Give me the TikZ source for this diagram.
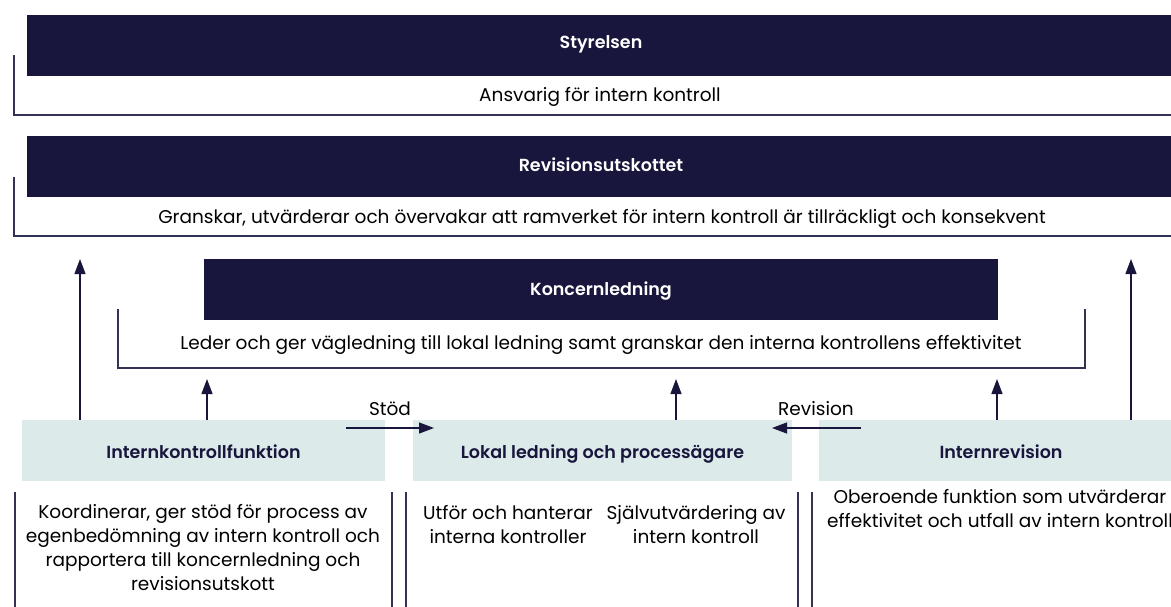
\documentclass[tikz,border=0pt]{standalone}
\usepackage{fontspec}
\setmainfont{Poppins}[BoldFont={Poppins SemiBold}]
\usetikzlibrary{arrows.meta}
\definecolor{navy}{RGB}{24,22,60}
\definecolor{lightbox}{RGB}{221,234,234}
\definecolor{linec}{RGB}{50,50,85}
\tikzset{
  darkbox/.style={fill=navy, text=white, font=\bfseries\fontsize{17.5}{21}\selectfont, inner sep=0pt, minimum height=61pt},
  lightb/.style={fill=lightbox, text=navy, font=\bfseries\fontsize{17.5}{21}\selectfont, inner sep=0pt, minimum height=61pt},
  boxtext/.style={inner sep=0pt, anchor=base, font=\bfseries\fontsize{17.5}{21}\selectfont},
  desc/.style={text=black, font=\fontsize{18.5}{24}\selectfont, inner sep=0pt, align=center, anchor=base},
  lbl/.style={text=black, font=\fontsize{18.5}{22}\selectfont, inner sep=0pt, anchor=base},
  bline/.style={draw=linec, line width=1.2pt},
  uparrow/.style={draw=navy, line width=1.2pt, -{Triangle[length=15pt,width=11pt]}},
}
\begin{document}
\begin{tikzpicture}[x=1pt,y=-1pt]
\useasboundingbox (0,0) rectangle (1171,606);
% top boxes
\node[darkbox, minimum width=1148pt] (sty) at (601,45.5) {};
\node[boxtext, text=white] (styt) at (601,48.5) {Styrelsen};
\node[desc] (styd) at (600,101) {Ansvarig för intern kontroll};
\coordinate (s1) at (14,55); \coordinate (s2) at (14,115); \coordinate (s3) at (1180,115);
\draw[bline] (s1) -- (s2) -- (s3);

\node[darkbox, minimum width=1148pt] (rev) at (601,166.5) {};
\node[boxtext, text=white] (revt) at (601,171.5) {Revisionsutskottet};
\node[desc] (revd) at (602,223) {Granskar, utvärderar och övervakar att ramverket för intern kontroll är tillräckligt och konsekvent};
\coordinate (r1) at (14,177); \coordinate (r2) at (14,236); \coordinate (r3) at (1180,236);
\draw[bline] (r1) -- (r2) -- (r3);

\node[darkbox, minimum width=794pt] (kon) at (601,289.5) {};
\node[boxtext, text=white] (kont) at (601,295) {Koncernledning};
\node[desc] (kond) at (601,349) {Leder och ger vägledning till lokal ledning samt granskar den interna kontrollens effektivitet};
\coordinate (k1) at (118,309); \coordinate (k2) at (118,368); \coordinate (k3) at (1085,368); \coordinate (k4) at (1085,309);
\draw[bline] (k1) -- (k2) -- (k3) -- (k4);

% light boxes
\node[lightb, minimum width=363pt] (ikf) at (203.5,450.5) {};
\node[boxtext, text=navy] (ikft) at (203.5,458) {Internkontrollfunktion};
\node[lightb, minimum width=379pt] (lok) at (602.5,450.5) {};
\node[boxtext, text=navy] (lokt) at (602.5,458) {Lokal ledning och processägare};
\node[lightb, minimum width=364pt] (ir) at (1001,450.5) {};
\node[boxtext, text=navy] (irt) at (1001,458) {Internrevision};

% arrows up
\coordinate (a1) at (80,259); \coordinate (a2) at (207,379); \coordinate (a3) at (676,379); \coordinate (a4) at (997,379); \coordinate (a5) at (1131,259);
\draw[uparrow] (ikf.north -| a1) -- (a1);
\draw[uparrow] (ikf.north -| a2) -- (a2);
\draw[uparrow] (lok.north -| a3) -- (a3);
\draw[uparrow] (ir.north -| a4) -- (a4);
\draw[uparrow] (ir.north -| a5) -- (a5);

% horizontal arrows
\coordinate (st1) at (346,428); \coordinate (st2) at (434,428);
\draw[uparrow] (st1) -- (st2);
\node[lbl] (stod) at (390,415) {Stöd};
\coordinate (rv1) at (861,428); \coordinate (rv2) at (772,428);
\draw[uparrow] (rv1) -- (rv2);
\node[lbl] (revl) at (816,415) {Revision};

% bottom lines
\foreach \x/\n in {15/b1,392/b2,406/b3,798/b4,812/b5} {
  \coordinate (\n t) at (\x,492); \coordinate (\n b) at (\x,610);
  \draw[bline] (\n t) -- (\n b);
}

% bottom texts (anchor=base is the last line's baseline)
\node[desc] (ikfd) at (203,590) {Koordinerar, ger stöd för process av\\egenbedömning av intern kontroll och\\rapportera till koncernledning och\\revisionsutskott};
\node[desc] (lokd1) at (508,543) {Utför och hanterar\\interna kontroller};
\node[desc] (lokd2) at (696,543) {Självutvärdering av\\intern kontroll};
\node[desc] (ird) at (1000,527) {Oberoende funktion som utvärderar\\effektivitet och utfall av intern kontroll};
\end{tikzpicture}
\end{document}
